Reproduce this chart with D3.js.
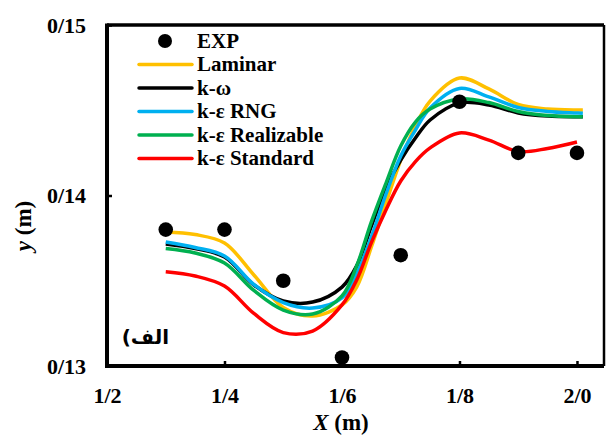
<!DOCTYPE html>
<html><head><meta charset="utf-8">
<script src="https://cdn.jsdelivr.net/npm/d3@7"></script>
<style>body{margin:0;background:#fff}svg{display:block}</style>
</head><body>
<script>
// Data
const xTicks = [1.2, 1.4, 1.6, 1.8, 2.0];
const xTickLabels = ["1/2", "1/4", "1/6", "1/8", "2/0"];
const yTicks = [0.13, 0.14, 0.15];
const yTickLabels = ["0/13", "0/14", "0/15"];

const expX = [1.3, 1.4, 1.5, 1.6, 1.7, 1.8, 1.9, 2.0];
const expY = [0.1380, 0.1380, 0.1350, 0.1305, 0.1365, 0.1455, 0.1425, 0.1425];

const simX = [1.30, 1.35, 1.40, 1.45, 1.50, 1.55, 1.60, 1.625, 1.65, 1.675, 1.70, 1.725, 1.75, 1.80, 1.85, 1.90, 1.95, 2.00, 2.01];
const laminar  = [0.13786, 0.13771, 0.13721, 0.13534, 0.13343, 0.13293, 0.13358, 0.13463, 0.13698, 0.13956, 0.14208, 0.14408, 0.14554, 0.14689, 0.14625, 0.14534, 0.14507, 0.14501, 0.14501];
const kOmega   = [0.13716, 0.13689, 0.13639, 0.13475, 0.13381, 0.13375, 0.13463, 0.13587, 0.13821, 0.14044, 0.14208, 0.14337, 0.14443, 0.14542, 0.14531, 0.14484, 0.14466, 0.14462, 0.14462];
const kEpsRNG  = [0.13727, 0.13695, 0.13645, 0.13478, 0.13372, 0.13340, 0.13399, 0.13540, 0.13757, 0.14009, 0.14232, 0.14384, 0.14513, 0.14628, 0.14578, 0.14516, 0.14493, 0.14484, 0.14482];
const kEpsReal = [0.13689, 0.13663, 0.13604, 0.13443, 0.13328, 0.13305, 0.13411, 0.13587, 0.13845, 0.14073, 0.14290, 0.14431, 0.14507, 0.14566, 0.14545, 0.14493, 0.14469, 0.14462, 0.14462];
const kEpsStd  = [0.13553, 0.13528, 0.13469, 0.13308, 0.13196, 0.13205, 0.13358, 0.13504, 0.13724, 0.13917, 0.14085, 0.14199, 0.14279, 0.14367, 0.14325, 0.14258, 0.14276, 0.14314];
const seriesNames = ["Laminar", "k-ω", "k-ε RNG", "k-ε Realizable", "k-ε Standard"];
const seriesColors = ["#FFC000", "#000000", "#00B0F0", "#00B050", "#FF0000"];
const seriesData = [laminar, kOmega, kEpsRNG, kEpsReal, kEpsStd];

const W = 606, H = 437;
const m = {left: 107, right: 2, top: 25, bottom: 71};
const svg = d3.select("body").append("svg").attr("width", W).attr("height", H);

const x = d3.scaleLinear().domain([1.2, 2.046]).range([m.left, W - m.right]);
const y = d3.scaleLinear().domain([0.13, 0.15]).range([H - m.bottom, m.top]);

const font = "'Liberation Serif','Times New Roman',serif";

// Lines
const line = d3.line().x(d => x(d[0])).y(d => y(d[1])).curve(d3.curveCatmullRom.alpha(0.5));
seriesData.forEach((vals, i) => {
  const pts = vals.map((v, j) => [simX[j], v]);
  svg.append("path").attr("d", line(pts)).attr("fill", "none")
    .attr("stroke", seriesColors[i]).attr("stroke-width", 3.5).attr("stroke-linecap", "butt");
});

// EXP points
svg.selectAll("circle.exp").data(expX.map((v, i) => [v, expY[i]])).enter().append("circle")
  .attr("class", "exp").attr("cx", d => x(d[0])).attr("cy", d => y(d[1])).attr("r", 7.3).attr("fill", "#000");

// Frame
const x0 = x.range()[0], x1 = x.range()[1], y0 = y.range()[0], y1 = y.range()[1];
svg.append("line").attr("x1", x0).attr("x2", x1).attr("y1", y1).attr("y2", y1).attr("stroke", "#000").attr("stroke-width", 3.5);
svg.append("line").attr("x1", x1).attr("x2", x1).attr("y1", y1).attr("y2", y0).attr("stroke", "#000").attr("stroke-width", 2.5);

// Axes
const xAxis = d3.axisBottom(x).tickValues(xTicks).tickSize(-5).tickPadding(0).tickFormat((d, i) => xTickLabels[i]);
const gx = svg.append("g").attr("transform", `translate(0,${y0})`).call(xAxis);
gx.select(".domain").attr("stroke-width", 4).attr("d", `M${x0 - 2},0H${x1}`);
gx.selectAll(".tick line").attr("stroke-width", 2.5);
gx.selectAll(".tick text").attr("y", 37).attr("dy", 0).attr("font-family", font).attr("font-weight", "bold").attr("font-size", 22).attr("fill", "#000");

const yAxis = d3.axisLeft(y).tickValues(yTicks).tickSize(-5).tickPadding(0).tickFormat((d, i) => yTickLabels[i]);
const gy = svg.append("g").attr("transform", `translate(${x0},0)`).call(yAxis);
gy.select(".domain").attr("stroke-width", 4).attr("d", `M0,${y0 + 2}V${y1 - 1.5}`);
gy.selectAll(".tick line").attr("stroke-width", 2.5);
gy.selectAll(".tick text").attr("x", -21).attr("dy", "0.33em").attr("font-family", font).attr("font-weight", "bold").attr("font-size", 22).attr("fill", "#000");

// Axis titles
const xt = svg.append("text").attr("x", 341).attr("y", 430).attr("text-anchor", "middle")
  .attr("font-family", font).attr("font-weight", "bold").attr("font-size", 23);
xt.append("tspan").attr("font-style", "italic").text("X");
xt.append("tspan").text(" (m)");

const yt = svg.append("text").attr("transform", "translate(31,226) rotate(-90)").attr("text-anchor", "middle")
  .attr("font-family", font).attr("font-weight", "bold").attr("font-size", 23);
yt.append("tspan").attr("font-style", "italic").text("y");
yt.append("tspan").text(" (m)");

// Legend
const legX = 139, legY0 = 41, legDy = 23.5;
svg.append("circle").attr("cx", 165).attr("cy", legY0).attr("r", 7).attr("fill", "#000");
svg.append("text").attr("x", 197).attr("y", legY0).attr("dy", "0.33em").attr("font-family", font)
  .attr("font-weight", "bold").attr("font-size", 21).text("EXP");
seriesNames.forEach((n, i) => {
  const yy = legY0 + legDy * (i + 1);
  svg.append("line").attr("x1", legX).attr("x2", 192).attr("y1", yy).attr("y2", yy)
    .attr("stroke", seriesColors[i]).attr("stroke-width", 3.5).attr("stroke-linecap", "round");
  svg.append("text").attr("x", 197).attr("y", yy).attr("dy", "0.33em").attr("font-family", font)
    .attr("font-weight", "bold").attr("font-size", 21).text(n);
});

// Panel label
svg.append("text").attr("x", 169).attr("y", 344).attr("text-anchor", "start").attr("direction", "rtl")
  .attr("font-family", "'DejaVu Sans','Noto Sans',sans-serif").attr("font-weight", "bold").attr("font-size", 20).text("الف)");
</script>
</body></html>
